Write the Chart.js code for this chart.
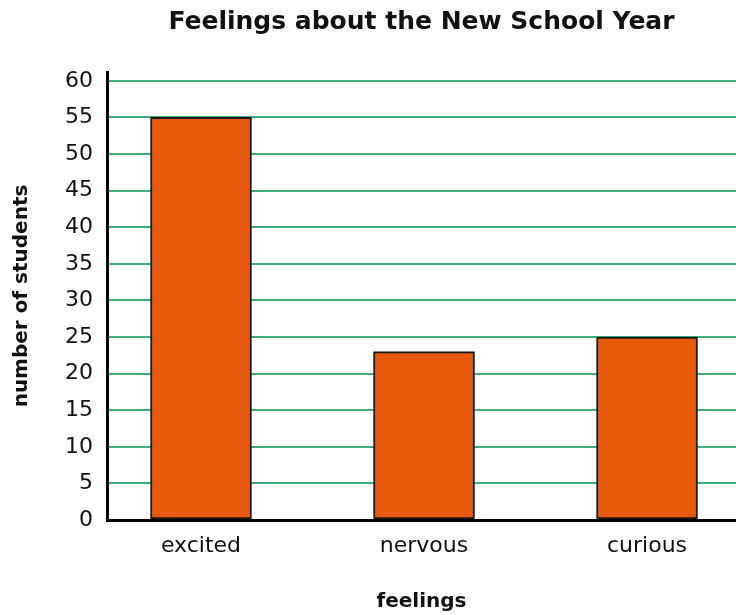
<!DOCTYPE html>
<html>
<head>
<meta charset="utf-8">
<script src="https://cdn.jsdelivr.net/npm/chart.js@4/dist/chart.umd.min.js"></script>
<style>
  body { margin: 0; background: #fff; }
  canvas { display: block; }
</style>
</head>
<body>
<canvas id="graphCanvas" width="736" height="615"></canvas>
<script>
var feelings = ['excited', 'nervous', 'curious'];
var students = [55, 23, 25];
var yTicks = [0, 5, 10, 15, 20, 25, 30, 35, 40, 45, 50, 55, 60];

var fontName = '"DejaVu Sans", sans-serif';
var barOrange = '#e85a0d';
var gridGreen = '#3cae78';

var points = [];
for (var i in feelings) {
	points.push({ x: Number(i), y: students[i] });
}

var chartdata = {
	datasets: [
		{
			label: 'students',
			data: points,
			backgroundColor: barOrange,
			borderColor: '#1a1a1a',
			borderWidth: 2,
			borderSkipped: false,
			barThickness: 101
		}
	]
};

var graphTarget = document.getElementById('graphCanvas');

var barGraph = new Chart(graphTarget, {
	type: 'bar',
	data: chartdata,
	options: {
		responsive: false,
		animation: false,
		layout: { padding: { left: 0, right: 0, top: 0, bottom: 0 } },
		plugins: {
			legend: { display: false },
			tooltip: { enabled: false },
			title: {
				display: true,
				fullSize: false,
				text: 'Feelings about the New School Year',
				color: '#111',
				font: { family: fontName, size: 25, weight: 'bold' },
				padding: { top: 7, bottom: 35 }
			}
		},
		scales: {
			x: {
				type: 'linear',
				offset: false,
				min: -0.4215,
				max: 2.399,
				afterBuildTicks: function (scale) {
					scale.ticks = feelings.map(function (f, i) { return { value: i }; });
				},
				afterFit: function (scale) { scale.height = 95; },
				ticks: {
					callback: function (value) { return feelings[value]; },
					color: '#111',
					font: { family: fontName, size: 22 },
					padding: 13,
					maxRotation: 0
				},
				grid: { display: false, drawTicks: false, offset: false },
				border: { color: '#000', width: 3 },
				title: {
					display: true,
					text: 'feelings',
					color: '#111',
					font: { family: fontName, size: 20, weight: 'bold' },
					padding: { top: 0, bottom: 1 }
				}
			},
			y: {
				min: 0,
				max: 61.2,
				afterBuildTicks: function (scale) {
					scale.ticks = yTicks.map(function (v) { return { value: v }; });
				},
				afterFit: function (scale) { scale.width = 107; },
				ticks: {
					color: '#111',
					font: { family: fontName, size: 22 },
					padding: 14
				},
				grid: { color: gridGreen, lineWidth: 2, drawTicks: false },
				border: { color: '#000', width: 3 },
				title: {
					display: true,
					text: 'number of students',
					color: '#111',
					font: { family: fontName, size: 20, weight: 'bold' },
					padding: { top: 10, bottom: 0 }
				}
			}
		}
	}
});
</script>
</body>
</html>
